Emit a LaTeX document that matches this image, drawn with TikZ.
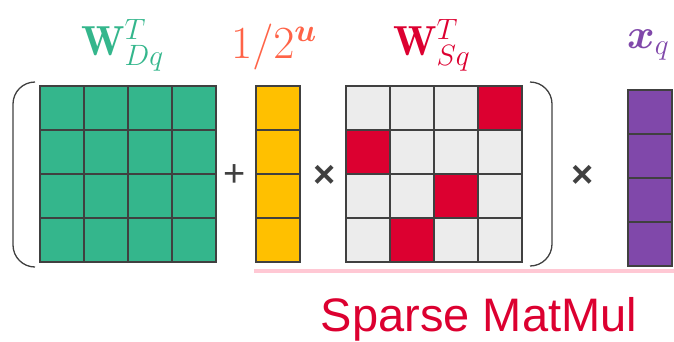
\RequirePackage{fix-cm}
\documentclass[tikz,border=0pt]{standalone}
\usepackage{amsmath}
\usepackage{fontspec}
\newfontfamily\labelfont{Liberation Sans}
\usetikzlibrary{positioning}
\definecolor{denseGreen}{RGB}{52,182,140}
\definecolor{scaleGold}{RGB}{255,192,0}
\definecolor{sparseRed}{RGB}{220,0,48}
\definecolor{cellGray}{RGB}{236,236,236}
\definecolor{vecPurple}{RGB}{128,72,170}
\definecolor{scaleCoral}{RGB}{255,99,71}
\definecolor{lineGray}{RGB}{64,64,64}
\definecolor{mulPink}{RGB}{255,200,212}
\tikzset{
  cellBox/.style  = {rectangle, draw=lineGray, fill=#1, line width=1.2pt,
                     minimum size=44pt, inner sep=0pt, outer sep=0pt},
  matParen/.style = {draw=lineGray, line width=1.3pt, rounded corners=22pt},
  opSign/.style   = {font=\labelfont\fontsize{38}{38}\selectfont, text=lineGray,
                     inner sep=0pt},
  matLabel/.style = {anchor=base west, text=#1, inner sep=0pt,
                     font=\fontsize{42}{44}\selectfont},
}

\begin{document}
\begin{tikzpicture}[x=1pt,y=-1pt]
  \useasboundingbox (0,0) rectangle (674,341);
  % dense part
  \foreach \r in {0,...,3}
    \foreach \c in {0,...,3}
      \node[cellBox=denseGreen] (dq-\r-\c) at (62+44*\c,108+44*\r) {};
  % scale vector
  \foreach \r in {0,...,3}
    \node[cellBox=scaleGold] (sc-\r) at (278,108+44*\r) {};
  % sparse part, one hot cell per row
  \foreach \r/\hot in {0/3,1/0,2/2,3/1}
    \foreach \c in {0,...,3}{
      \ifnum\c=\hot \def\cellFill{sparseRed}\else\def\cellFill{cellGray}\fi
      \node[cellBox=\cellFill] (sq-\r-\c) at (368+44*\c,108+44*\r) {};
    }
  % input vector
  \foreach \r in {0,...,3}
    \node[cellBox=vecPurple] (xq-\r) at (650,112+44*\r) {};

  \draw[matParen] (35,82) -- (13,82) -- (13,267) -- (35,267);
  \draw[matParen] (530,82) -- (552,82) -- (552,266) -- (530,266);

  \node[opSign] (plusSign) at (235,176) {+};
  \node[opSign,font=\labelfont\bfseries\fontsize{38}{38}\selectfont] (timesA) at (325,176) {×};
  \node[opSign,font=\labelfont\bfseries\fontsize{38}{38}\selectfont] (timesB) at (583,176) {×};

  \node[matLabel=denseGreen] (dqLabel) at (81,55) {$\mathbf{W}^T_{Dq}$};
  \node[matLabel=scaleCoral,font=\fontsize{46}{48}\selectfont] (scLabel) at (231,58) {$1/2^{\boldsymbol{u}}$};
  \node[matLabel=sparseRed]  (sqLabel) at (393,55) {$\mathbf{W}^T_{Sq}$};
  \node[matLabel=vecPurple,font=\fontsize{42}{44}\selectfont]  (xLabel)  at (627,48) {$\boldsymbol{x}_q$};

  \coordinate (mulStart) at (254,271);
  \coordinate (mulEnd)   at (674,271);
  \draw[mulPink, line width=4pt] (mulStart) -- (mulEnd);
  \node[anchor=base, text=sparseRed, inner sep=0pt,
        font=\labelfont\fontsize{47}{50}\selectfont] (mulCaption) at (479,331) {Sparse MatMul};
\end{tikzpicture}
\end{document}
